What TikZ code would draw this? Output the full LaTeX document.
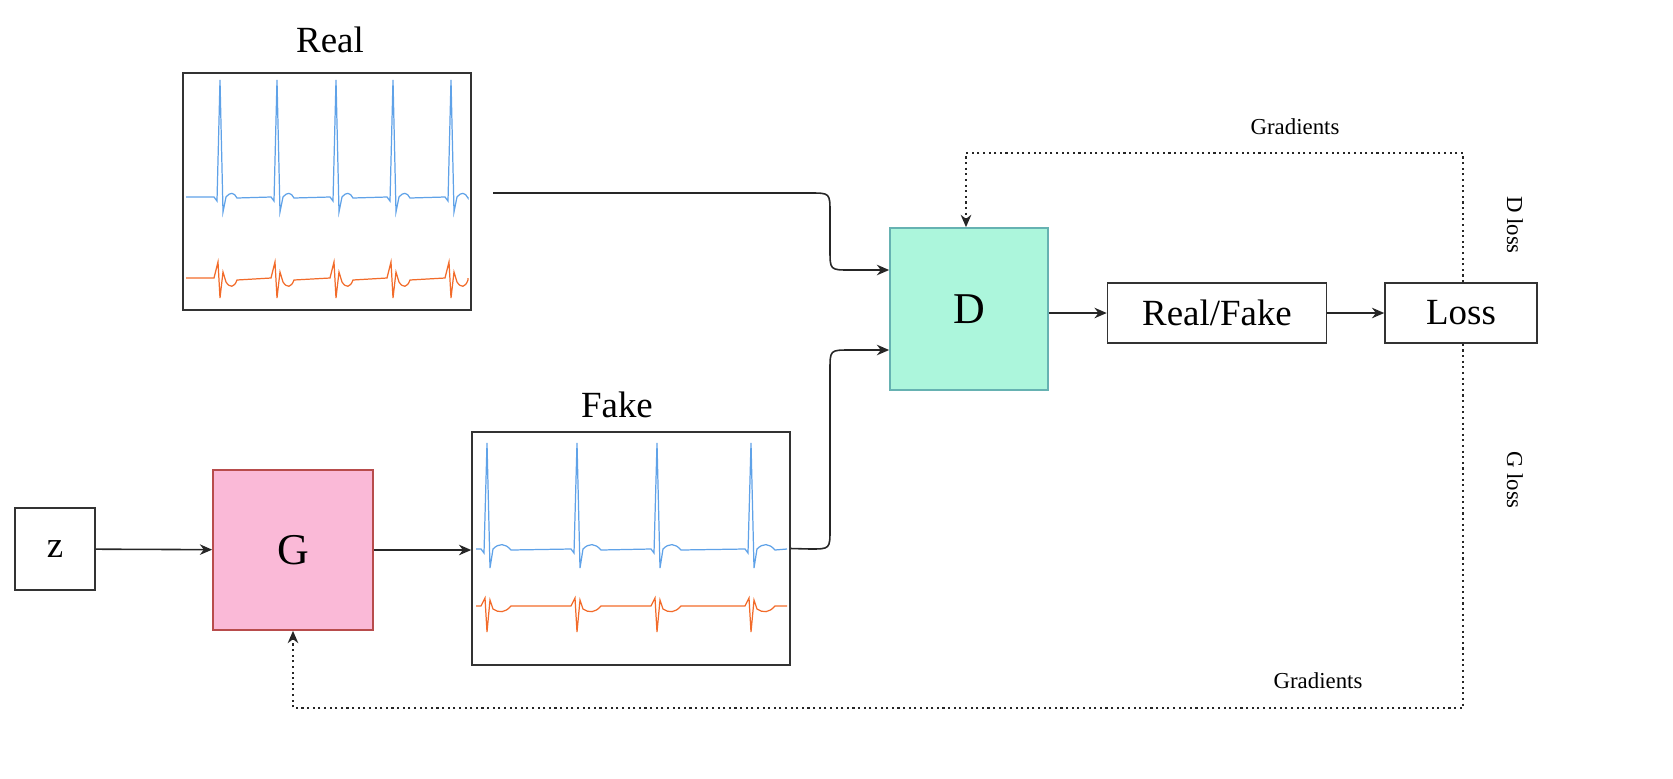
\documentclass[tikz,border=0pt]{standalone}
\usepackage{fontspec}
\setmainfont{Liberation Serif}
\usetikzlibrary{arrows.meta}
\definecolor{ecgblue}{HTML}{5FA2E8}
\definecolor{ecgorange}{HTML}{F26B2A}
\begin{document}
\begin{tikzpicture}[x=0.02cm,y=-0.02cm,
 box/.style={draw=black!80,line width=0.9pt,inner sep=0},
 arr/.style={-{Stealth[length=7pt,width=6pt]},line width=0.9pt,black!85},
 dot/.style={-{Stealth[length=7pt,width=6pt]},line width=1.2pt,dotted,black!85},
 ecgb/.style={draw=ecgblue,line width=0.7pt},
 ecgo/.style={draw=ecgorange,line width=0.7pt},
 big/.style={font=\fontsize{21}{24}\selectfont},
 small/.style={font=\fontsize{13}{15}\selectfont}]
\useasboundingbox (0,0) rectangle (1673,778);
% boxes
\node[box,minimum width=5.76cm,minimum height=4.74cm] (real) at (327,191.5) {};
\node[big] (reallbl) at (330,40) {Real};
\node[box,minimum width=6.36cm,minimum height=4.66cm] (fake) at (631,548.5) {};
\node[big] (fakelbl) at (617,405) {Fake};
\node[box,minimum width=1.6cm,minimum height=1.64cm,big] (z) at (55,549) {z};
\node[box,draw=red!60!black!70,fill={rgb,255:red,250;green,185;blue,215},line width=1pt,minimum width=3.2cm,minimum height=3.2cm,font=\fontsize{25}{28}\selectfont] (G) at (293,550) {G};
\node[box,draw=teal!60,fill={rgb,255:red,172;green,246;blue,220},line width=1pt,minimum width=3.16cm,minimum height=3.24cm,font=\fontsize{25}{28}\selectfont] (D) at (969,309) {D};
\node[box,minimum width=4.38cm,minimum height=1.2cm,big] (rf) at (1217,313) {Real/Fake};
\node[box,minimum width=3.04cm,minimum height=1.2cm,big] (loss) at (1461,313) {Loss};
% waveforms
\draw[ecgb] (186,197) \foreach \s in {220,277,336,393,451}{ -- (\s-6,197) -- (\s-3,201) -- (\s,80) -- (\s+3,212) -- (\s+6,197) .. controls (\s+10,192) and (\s+14,192) .. (\s+17,198)} -- (468,197);
\draw[ecgo] (186,278) \foreach \s in {220,277,336,393,451}{ -- (\s-6,278) -- (\s-2,262) -- (\s,298) -- (\s+3,272) -- (\s+6,282) .. controls (\s+10,288) and (\s+14,288) .. (\s+17,280)} -- (468,278);
\draw[ecgb] (476,549) \foreach \s in {487,577,657,751}{ -- (\s-6,549) -- (\s-3,553) -- (\s,443) -- (\s+3,568) -- (\s+6,549) .. controls (\s+12,543) and (\s+18,543) .. (\s+24,550)} -- (787,549);
\draw[ecgo] (476,606) \foreach \s in {487,577,657,751}{ -- (\s-6,606) -- (\s-2,598) -- (\s,632) -- (\s+3,600) -- (\s+6,609) .. controls (\s+12,613) and (\s+18,613) .. (\s+24,606)} -- (787,606);
% connectors
\coordinate (rs) at (493,193);
\draw[arr] (rs) -- (810,193) .. controls (830,193) .. (830,213) -- (830,250) .. controls (830,270) .. (850,270) -- (D.west |- 0,270);
\draw[arr] (fake.east) -- (810,549) .. controls (830,549) .. (830,529) -- (830,370) .. controls (830,350) .. (850,350) -- (D.west |- 0,350);
\draw[arr] (z) -- (G);
\draw[arr] (G) -- (fake.west |- G);
\draw[arr] (D.east |- rf) -- (rf);
\draw[arr] (rf) -- (loss);
\draw[dot] (loss.north -| 1463,0) -- (1463,153) -- (966,153) -- (D.north -| 966,0);
\draw[dot] (loss.south -| 1463,0) -- (1463,708) -- (293,708) -- (G.south);
\node[small] (g1) at (1295,127) {Gradients};
\node[small] (g2) at (1318,681) {Gradients};
\node[small,rotate=-90] (dl) at (1515,225) {D loss};
\node[small,rotate=-90] (gl) at (1515,480) {G loss};
\end{tikzpicture}
\end{document}
